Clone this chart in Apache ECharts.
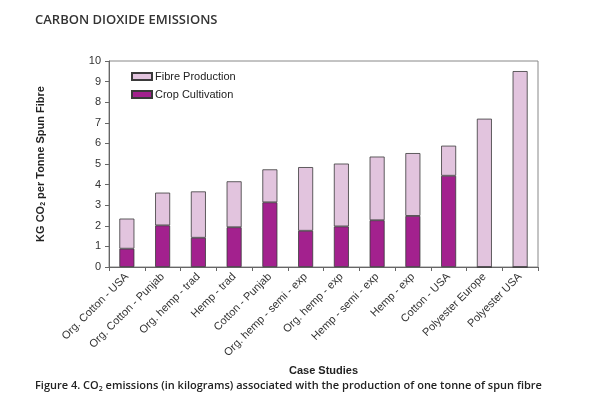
<!DOCTYPE html>
<html><head><meta charset="utf-8">
<script src="https://cdn.jsdelivr.net/npm/echarts@6/dist/echarts.min.js"></script>
<style>html,body{margin:0;padding:0;background:#fff}#c{width:600px;height:400px}</style>
</head><body><div id="c"></div>
<script>
const categories = ["Org. Cotton - USA","Org. Cotton - Punjab","Org. hemp - trad","Hemp - trad","Cotton - Punjab","Org. hemp - semi - exp","Org. hemp - exp","Hemp - semi - exp","Hemp - exp","Cotton - USA","Polyester Europe","Polyester USA"];
const cropCultivation = [0.89, 2.02, 1.42, 1.93, 3.14, 1.76, 1.97, 2.27, 2.48, 4.43, 0, 0];
const fibreProduction = [1.46, 1.59, 2.25, 2.23, 1.60, 3.09, 3.05, 3.09, 3.05, 1.46, 7.20, 9.51];
const yTicks = [0,1,2,3,4,5,6,7,8,9,10];

const chart = echarts.init(document.getElementById('c'));
chart.setOption({
  animation: false,
  title: [{
    text: 'CARBON DIOXIDE EMISSIONS', left: 30, top: 9,
    textStyle: {fontFamily: 'Open Sans', fontWeight: 600, fontSize: 13, color: '#333'}
  },{
    text: '{a|Figure 4. CO}{s|2}{a| emissions (in kilograms) associated with the production of one tonne of spun fibre}',
    left: 30, top: 375,
    textStyle: {rich: {
      a: {fontFamily: 'Open Sans', fontSize: 11, color: '#222', fontWeight: 600},
      s: {fontFamily: 'Open Sans', fontSize: 7, color: '#222', fontWeight: 600, verticalAlign: 'bottom', padding: [5,0,0,0]}
    }}
  }],
  legend: {
    orient: 'vertical', left: 126, top: 66, itemWidth: 20, itemHeight: 7, itemGap: 7,
    icon: 'rect',
    data: ['Fibre Production','Crop Cultivation'],
    textStyle: {fontFamily: 'Liberation Sans', fontSize: 11, color: '#222', padding: [0,0,0,-2]}
  },
  grid: {left: 109, right: 62, top: 61, bottom: 133, show: true, borderColor: '#888', borderWidth: 1},
  xAxis: {
    type: 'category', data: categories,
    name: 'Case Studies', nameLocation: 'middle', nameGap: 96,
    nameTextStyle: {fontFamily: 'Liberation Sans', fontWeight: 'bold', fontSize: 11, color: '#222'},
    axisLine: {lineStyle: {color: '#666'}},
    axisTick: {show: true, alignWithLabel: false, length: 4, lineStyle: {color: '#666'}},
    axisLabel: {rotate: 45, interval: 0, fontFamily: 'Liberation Sans', fontSize: 11, color: '#333', margin: 8}
  },
  yAxis: {
    type: 'value', min: 0, max: 10, interval: 1,
    name: '{a|KG CO}{s|2}{a| per Tonne Spun Fibre}', nameLocation: 'middle', nameGap: 62, nameRotate: 90,
    nameTextStyle: {rich: {
      a: {fontFamily: 'Liberation Sans', fontWeight: 'bold', fontSize: 11, color: '#222'},
      s: {fontFamily: 'Liberation Sans', fontWeight: 'bold', fontSize: 7, color: '#222', verticalAlign: 'bottom', padding: [5,0,0,0]}
    }},
    axisLine: {show: true, lineStyle: {color: '#666'}},
    axisTick: {show: true, inside: false, length: 4, lineStyle: {color: '#666'}},
    splitLine: {show: false},
    axisLabel: {fontFamily: 'Liberation Sans', fontSize: 11, color: '#333', margin: 8,
      formatter: v => yTicks.includes(v) ? String(v) : ''}
  },
  series: [{
    name: 'Crop Cultivation', type: 'bar', stack: 't', data: cropCultivation, barWidth: '42%',
    itemStyle: {color: '#A3218E', borderColor: '#3a3a3a', borderWidth: 0.8}
  },{
    name: 'Fibre Production', type: 'bar', stack: 't', data: fibreProduction, barWidth: '42%',
    itemStyle: {color: '#E2C4DE', borderColor: '#3a3a3a', borderWidth: 0.8}
  }]
});
</script></body></html>
